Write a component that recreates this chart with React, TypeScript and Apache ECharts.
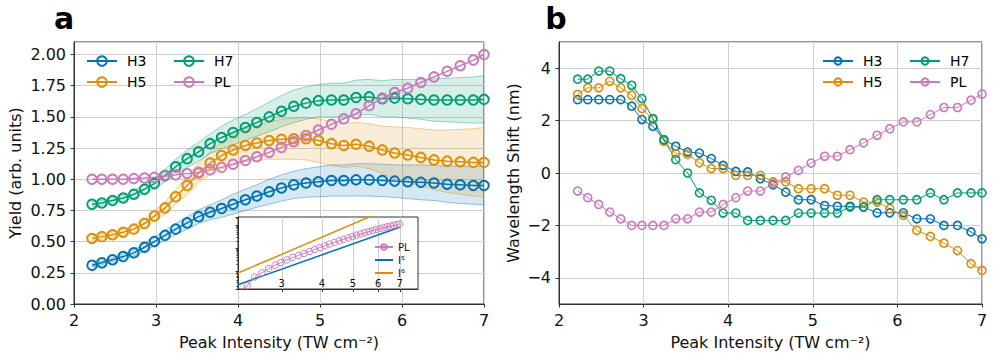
import React, { useEffect, useRef } from "react";
import * as echarts from "echarts";

// ---------- data ----------
const intensity = [2.22, 2.34, 2.47, 2.60, 2.73, 2.86, 2.98, 3.11, 3.24, 3.38, 3.52, 3.66, 3.80, 3.94, 4.09, 4.23, 4.38, 4.53, 4.68, 4.83, 4.98, 5.14, 5.29, 5.44, 5.60, 5.76, 5.91, 6.07, 6.23, 6.39, 6.55, 6.71, 6.87, 7.00];

const yieldH3 = [0.31, 0.33, 0.355, 0.38, 0.41, 0.455, 0.50, 0.55, 0.60, 0.65, 0.70, 0.735, 0.765, 0.80, 0.835, 0.865, 0.90, 0.93, 0.955, 0.97, 0.98, 0.99, 0.99, 0.995, 0.995, 0.99, 0.985, 0.98, 0.975, 0.97, 0.96, 0.955, 0.95, 0.95];
const yieldH5 = [0.525, 0.54, 0.555, 0.575, 0.60, 0.645, 0.705, 0.77, 0.86, 0.95, 1.05, 1.13, 1.19, 1.235, 1.27, 1.29, 1.31, 1.32, 1.325, 1.325, 1.31, 1.285, 1.27, 1.28, 1.265, 1.235, 1.21, 1.195, 1.175, 1.155, 1.145, 1.14, 1.135, 1.135];
const yieldH7 = [0.80, 0.81, 0.83, 0.85, 0.88, 0.92, 0.965, 1.03, 1.10, 1.165, 1.22, 1.285, 1.335, 1.375, 1.415, 1.455, 1.50, 1.545, 1.585, 1.61, 1.63, 1.635, 1.635, 1.655, 1.66, 1.645, 1.65, 1.645, 1.64, 1.635, 1.635, 1.635, 1.635, 1.64];
const yieldPL = [1.0, 1.0, 1.0, 1.0, 1.005, 1.01, 1.015, 1.025, 1.035, 1.045, 1.055, 1.075, 1.095, 1.12, 1.15, 1.18, 1.215, 1.255, 1.30, 1.35, 1.395, 1.44, 1.485, 1.525, 1.59, 1.65, 1.695, 1.73, 1.775, 1.82, 1.865, 1.91, 1.955, 2.0];

// half-width of the shaded uncertainty bands
const errH3 = [0.015, 0.015, 0.018, 0.02, 0.025, 0.03, 0.035, 0.04, 0.045, 0.05, 0.055, 0.06, 0.07, 0.08, 0.085, 0.09, 0.10, 0.105, 0.11, 0.115, 0.12, 0.125, 0.125, 0.13, 0.13, 0.13, 0.13, 0.135, 0.14, 0.14, 0.145, 0.15, 0.15, 0.155];
const errH5 = [0.02, 0.02, 0.022, 0.025, 0.03, 0.035, 0.04, 0.05, 0.06, 0.07, 0.08, 0.09, 0.11, 0.12, 0.13, 0.14, 0.15, 0.16, 0.165, 0.17, 0.175, 0.175, 0.175, 0.175, 0.18, 0.19, 0.21, 0.22, 0.23, 0.24, 0.25, 0.26, 0.27, 0.28];
const errH7 = [0.02, 0.02, 0.022, 0.025, 0.03, 0.035, 0.04, 0.05, 0.06, 0.07, 0.075, 0.08, 0.09, 0.10, 0.105, 0.11, 0.12, 0.125, 0.13, 0.13, 0.13, 0.135, 0.135, 0.14, 0.14, 0.145, 0.15, 0.155, 0.16, 0.17, 0.175, 0.18, 0.185, 0.19];

const shiftH3 = [2.80, 2.80, 2.80, 2.80, 2.80, 2.55, 2.04, 1.78, 1.27, 1.02, 0.80, 0.76, 0.55, 0.29, 0.06, 0.04, -0.22, -0.45, -0.73, -1.02, -1.02, -1.24, -1.27, -1.27, -1.30, -1.52, -1.52, -1.52, -1.75, -1.75, -2.0, -2.0, -2.25, -2.51];
const shiftH5 = [3.0, 3.25, 3.25, 3.5, 3.25, 2.97, 2.46, 2.04, 1.21, 0.74, 0.71, 0.39, 0.17, 0.17, -0.09, -0.09, -0.09, -0.34, -0.34, -0.6, -0.6, -0.6, -0.85, -0.85, -1.11, -1.11, -1.36, -1.62, -2.19, -2.42, -2.68, -2.96, -3.46, -3.72];
const shiftH7 = [3.58, 3.58, 3.89, 3.89, 3.60, 3.35, 2.84, 2.08, 1.27, 0.51, 0.0, -0.76, -1.04, -1.53, -1.53, -1.81, -1.81, -1.81, -1.81, -1.53, -1.53, -1.53, -1.53, -1.30, -1.30, -1.02, -1.02, -1.02, -1.02, -0.76, -1.02, -0.76, -0.76, -0.76];
const shiftPL = [-0.69, -0.94, -1.2, -1.49, -1.75, -2.0, -2.0, -2.0, -2.0, -1.75, -1.75, -1.49, -1.49, -1.2, -0.94, -0.69, -0.69, -0.41, -0.15, 0.10, 0.38, 0.64, 0.64, 0.89, 1.15, 1.44, 1.69, 1.95, 1.95, 2.23, 2.50, 2.50, 2.78, 3.01];

// inset (log-log): PL yield in arbitrary units and power-law guides
const insetPL = [1.3, 2.2, 5.3, 8.1, 12.5, 17.6, 22.8, 29.9, 38.4, 46.9, 57.4, 70.1, 85.7, 104.7, 125, 149, 176, 207, 241, 277, 318, 366, 413, 466, 520, 581, 643, 710, 777, 851, 922, 989, 1060, 1127];
const guideX = [2.19, 7.0];
const guideI5 = [2.45, 817];
const guideI6 = [8.0, 8550];
const insetTicks = [3, 4, 5, 6, 7];

const xTicksLabel = ["2", "3", "4", "5", "6", "7"];

const COLORS = { H3: "#0173B2", H5: "#DE8F05", H7: "#029E73", PL: "#CC78BC" };
const FONT = "DejaVu Sans";

function rgba(hex: string, a: number) {
  const n = parseInt(hex.slice(1), 16);
  return `rgba(${(n >> 16) & 255},${(n >> 8) & 255},${n & 255},${a})`;
}

function pairs(y: number[]) {
  return intensity.map((x, i) => [x, y[i]]);
}

function mainLine(name: string, color: string, y: number[], gi: number, size: number, bw: number, lw: number) {
  return {
    type: "line",
    name,
    xAxisIndex: gi,
    yAxisIndex: gi,
    data: pairs(y),
    symbol: "circle",
    symbolSize: size,
    color,
    lineStyle: { color, width: lw },
    itemStyle: { color: "rgba(0,0,0,0)", borderColor: color, borderWidth: bw },
    z: 2,
    clip: true,
  };
}

function band(color: string, y: number[], e: number[]) {
  return {
    type: "custom",
    xAxisIndex: 0,
    yAxisIndex: 0,
    silent: true,
    z: 1,
    data: intensity.map((x, i) => [x, y[i] - e[i], y[i] + e[i]]),
    encode: { x: 0, y: [1, 2] },
    renderItem: (params: any, api: any) => {
      if (params.dataIndex !== 0) return null;
      const upper = intensity.map((x, i) => api.coord([x, y[i] + e[i]]));
      const lower = intensity.map((x, i) => api.coord([x, y[i] - e[i]]));
      const edge = { stroke: rgba(color, 0.4), lineWidth: 1, fill: "none" };
      return {
        type: "group",
        children: [
          { type: "polygon", shape: { points: upper.concat(lower.slice().reverse()) }, style: { fill: rgba(color, 0.16), stroke: "none" } },
          { type: "polyline", shape: { points: upper }, style: edge },
          { type: "polyline", shape: { points: lower }, style: edge },
        ],
      };
    },
  };
}

const axisCommon = {
  axisLine: { show: true, onZero: false, lineStyle: { color: "#333", width: 1 } },
  axisTick: { show: true, length: 3.5, lineStyle: { color: "#333" } },
  splitLine: { show: true, lineStyle: { color: "#cfcfcf", width: 1 } },
};

function minusFmt(v: number) {
  return v < 0 ? "\u2212" + Math.abs(v) : String(v);
}

export default function App() {
  const ref = useRef<HTMLDivElement>(null);

  useEffect(() => {
    if (!ref.current) return;
    const chart = echarts.init(ref.current, null, { renderer: "svg" });

    const legendText = { fontSize: 14, fontFamily: FONT, color: "#000", padding: [0, 0, 0, 5] };
    const legendBase = {
      orient: "vertical",
      itemWidth: 30,
      itemGap: 7,
      padding: 0,
      selectedMode: false,
      textStyle: legendText,
      formatter: (n: string) => n.split(" ")[0],
    };

    const option: any = {
      animation: false,
      backgroundColor: "#fff",
      textStyle: { fontFamily: FONT },
      grid: [
        { left: 74, top: 42, width: 410, height: 262, show: true, borderColor: "#333", borderWidth: 1, backgroundColor: "transparent" },
        { left: 559, top: 42, width: 423, height: 262, show: true, borderColor: "#333", borderWidth: 1, backgroundColor: "transparent" },
        { left: 238, top: 217, width: 180, height: 72, show: true, borderColor: "#333", borderWidth: 1, backgroundColor: "#fff", z: 4 },
      ],
      xAxis: [
        {
          gridIndex: 0, type: "value", min: 2, max: 7, interval: 1, ...axisCommon,
          axisLabel: { fontSize: 16, color: "#111", margin: 8, formatter: (v: number) => xTicksLabel[v - 2] ?? "" },
          name: "Peak Intensity (TW cm\u207B\u00B2)", nameLocation: "middle", nameGap: 30,
          nameTextStyle: { fontSize: 16, color: "#111" },
        },
        {
          gridIndex: 1, type: "value", min: 2, max: 7, interval: 1, ...axisCommon,
          axisLabel: { fontSize: 16, color: "#111", margin: 8, formatter: (v: number) => xTicksLabel[v - 2] ?? "" },
          name: "Peak Intensity (TW cm\u207B\u00B2)", nameLocation: "middle", nameGap: 30,
          nameTextStyle: { fontSize: 16, color: "#111" },
        },
        {
          gridIndex: 2, type: "log", min: 2.19, max: 7.98, z: 6,
          axisLine: { show: true, onZero: false, lineStyle: { color: "#333", width: 1 } },
          axisTick: { show: true, length: 3, customValues: insetTicks, lineStyle: { color: "#333" } },
          axisLabel: { show: true, inside: true, margin: 1, fontSize: 10, color: "#111", customValues: insetTicks },
          splitLine: { show: true, lineStyle: { color: "#cfcfcf", width: 1 } },
        },
      ],
      yAxis: [
        {
          gridIndex: 0, type: "value", min: 0, max: 2.1, interval: 0.25, ...axisCommon,
          axisLabel: { fontSize: 16, color: "#111", margin: 8, showMaxLabel: false, formatter: (v: number) => v.toFixed(2) },
          name: "Yield (arb. units)", nameLocation: "middle", nameGap: 51,
          nameTextStyle: { fontSize: 16, color: "#111" },
        },
        {
          gridIndex: 1, type: "value", min: -5, max: 5, splitNumber: 5, ...axisCommon,
          axisLabel: { fontSize: 16, color: "#111", margin: 8, showMaxLabel: false, showMinLabel: false, formatter: minusFmt },
          name: "Wavelength Shift (nm)", nameLocation: "middle", nameGap: 38,
          nameTextStyle: { fontSize: 16, color: "#111" },
        },
        {
          gridIndex: 2, type: "log", min: 1.585, max: 2291, z: 6,
          axisLine: { show: true, onZero: false, lineStyle: { color: "#333", width: 1 } },
          axisTick: { show: true, length: 2.5, lineStyle: { color: "#333" } },
          minorTick: { show: true, splitNumber: 9, length: 1.5, lineStyle: { color: "#333" } },
          axisLabel: { show: false },
          splitLine: { show: false },
        },
      ],
      legend: [
        { ...legendBase, data: ["H3", "H5"], left: 86, top: 54, itemHeight: 12 },
        { ...legendBase, data: ["H7", "PL"], left: 173, top: 54, itemHeight: 12 },
        { ...legendBase, data: ["H3 b", "H5 b"], left: 822, top: 54, itemHeight: 9 },
        { ...legendBase, data: ["H7 b", "PL b"], left: 909, top: 54, itemHeight: 9 },
        {
          orient: "vertical", left: 374, top: 242, itemWidth: 18, itemHeight: 7, itemGap: 3, z: 8,
          padding: 0,
          selectedMode: false,
          textStyle: { fontSize: 10, fontFamily: FONT, color: "#111" },
          formatter: (n: string) => n.split(" ")[0],
          data: [
            "PL i",
            { name: "I\u2075 i", itemStyle: { opacity: 0 } },
            { name: "I\u2076 i", itemStyle: { opacity: 0 } },
          ],
        },
      ],
      graphic: [
        { type: "text", x: 64, y: 18, style: { text: "a", fontSize: 30, fontWeight: "bold", fontFamily: FONT, fill: "#000", align: "center", verticalAlign: "middle" } },
        { type: "text", x: 556, y: 18, style: { text: "b", fontSize: 30, fontWeight: "bold", fontFamily: FONT, fill: "#000", align: "center", verticalAlign: "middle" } },
      ],
      series: [
        band(COLORS.H3, yieldH3, errH3),
        band(COLORS.H5, yieldH5, errH5),
        band(COLORS.H7, yieldH7, errH7),
        mainLine("H3", COLORS.H3, yieldH3, 0, 9.5, 2, 1.5),
        mainLine("H5", COLORS.H5, yieldH5, 0, 9.5, 2, 1.5),
        mainLine("H7", COLORS.H7, yieldH7, 0, 9.5, 2, 1.5),
        mainLine("PL", COLORS.PL, yieldPL, 0, 9.5, 2, 1.5),
        mainLine("H3 b", COLORS.H3, shiftH3, 1, 8, 1.6, 1),
        mainLine("H5 b", COLORS.H5, shiftH5, 1, 8, 1.6, 1),
        mainLine("H7 b", COLORS.H7, shiftH7, 1, 8, 1.6, 1),
        mainLine("PL b", COLORS.PL, shiftPL, 1, 8, 1.6, 1),
        {
          type: "line", name: "PL i", xAxisIndex: 2, yAxisIndex: 2,
          data: intensity.map((x, i) => [x, insetPL[i]]),
          symbol: "circle", symbolSize: 6.5, color: COLORS.PL,
          lineStyle: { color: COLORS.PL, width: 1 },
          itemStyle: { color: "rgba(0,0,0,0)", borderColor: COLORS.PL, borderWidth: 1 },
          z: 7, clip: true,
        },
        {
          type: "line", name: "I\u2075 i", xAxisIndex: 2, yAxisIndex: 2,
          data: guideX.map((x, i) => [x, guideI5[i]]),
          symbol: "none", color: COLORS.H3, lineStyle: { color: COLORS.H3, width: 1.5 }, z: 6, clip: true,
        },
        {
          type: "line", name: "I\u2076 i", xAxisIndex: 2, yAxisIndex: 2,
          data: guideX.map((x, i) => [x, guideI6[i]]),
          symbol: "none", color: COLORS.H5, lineStyle: { color: COLORS.H5, width: 1.5 }, z: 6, clip: true,
        },
      ],
    };

    chart.setOption(option);
    return () => chart.dispose();
  }, []);

  return <div ref={ref} style={{ position: "fixed", left: 0, top: 0, width: 997, height: 362 }} />;
}
